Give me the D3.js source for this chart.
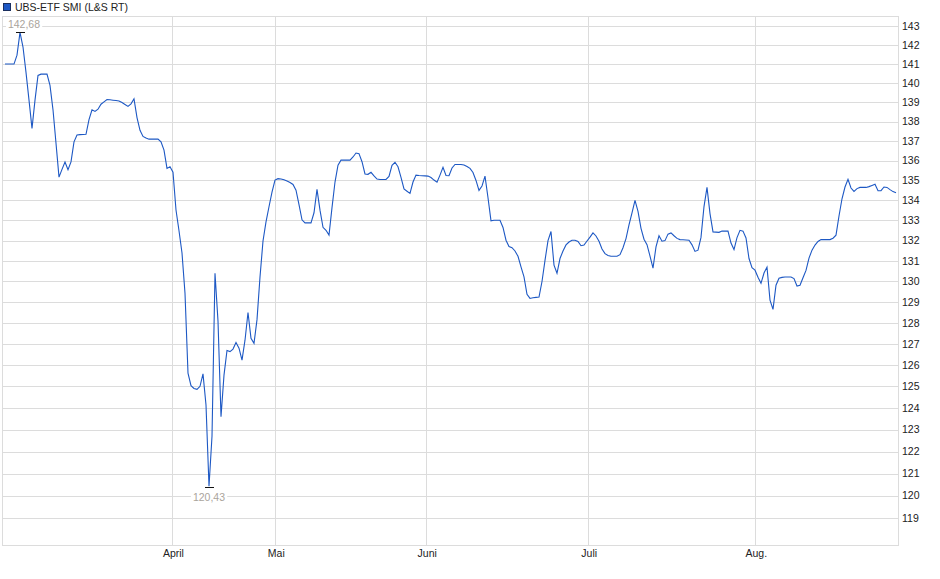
<!DOCTYPE html>
<html>
<head>
<meta charset="utf-8">
<script src="https://cdn.jsdelivr.net/npm/d3@7"></script>
<style>
  body { margin: 0; background: #fff; }
  text { font-family: "Liberation Sans", Arial, sans-serif; }
</style>
</head>
<body>
<svg id="chart" width="940" height="579"></svg>
<script>
// series name shown in the legend
const seriesName = "UBS-ETF SMI (L&S RT)";

// price samples, left to right
const prices = [
  141.0, 141.0, 141.0, 141.0, 141.47, 142.68, 141.9, 140.56, 139.11, 137.65,
  139.11, 140.40, 140.47, 140.47, 140.47, 139.88, 138.61, 136.89, 135.17, 135.56,
  135.93, 135.54, 135.94, 136.96, 137.31, 137.33, 137.34, 137.35, 138.10, 138.61,
  138.53, 138.64, 138.90, 139.02, 139.14, 139.13, 139.11, 139.09, 139.07, 138.99,
  138.89, 138.79, 138.92, 139.18, 138.21, 137.55, 137.24, 137.16, 137.10, 137.10,
  137.10, 137.10, 136.96, 136.54, 135.61, 135.69, 135.42, 133.52, 132.49, 131.39,
  129.43, 125.62, 125.04, 124.91, 124.87, 125.01, 125.59, 124.14, 120.43, 122.7,
  130.4, 128.09, 123.6, 125.53, 126.69, 126.64, 126.76, 127.07, 126.80, 126.24,
  127.18, 128.5, 127.27, 127.03, 128.16, 130.22, 131.98, 132.93, 133.68, 134.41,
  135.02, 135.09, 135.07, 135.04, 134.97, 134.90, 134.80, 134.51, 133.79, 133.03,
  132.88, 132.88, 132.88, 133.38, 134.55, 133.51, 132.66, 132.51, 132.27, 133.64,
  134.92, 135.77, 136.03, 136.03, 136.03, 136.03, 136.19, 136.39, 136.36, 135.95,
  135.33, 135.31, 135.41, 135.23, 135.07, 135.05, 135.05, 135.05, 135.20, 135.77,
  135.92, 135.69, 135.16, 134.57, 134.46, 134.35, 134.92, 135.27, 135.25, 135.24,
  135.23, 135.22, 135.15, 135.02, 134.91, 135.27, 135.66, 135.25, 135.24, 135.63,
  135.81, 135.81, 135.81, 135.78, 135.71, 135.61, 135.40, 135.00, 134.50, 134.72,
  135.22, 134.13, 132.98, 133.01, 133.01, 133.01, 132.65, 132.02, 131.71, 131.65,
  131.49, 131.23, 130.71, 130.22, 129.38, 129.18, 129.21, 129.23, 129.25, 130.00,
  131.03, 132.00, 132.45, 130.8, 130.4, 131.12, 131.49, 131.79, 131.93, 132.02,
  132.02, 131.96, 131.75, 131.78, 131.98, 132.17, 132.38, 132.23, 131.97, 131.59,
  131.36, 131.27, 131.23, 131.23, 131.23, 131.31, 131.65, 132.10, 132.78, 133.37,
  134.0, 133.45, 132.61, 132.07, 131.80, 131.24, 130.65, 131.69, 132.24, 131.97,
  132.0, 132.32, 132.38, 132.24, 132.11, 132.05, 132.04, 132.03, 132.02, 131.79,
  131.47, 131.53, 132.16, 133.69, 134.65, 133.34, 132.43, 132.42, 132.41, 132.47,
  132.47, 132.47, 131.88, 131.56, 132.15, 132.51, 132.47, 132.13, 131.12, 130.67,
  130.55, 130.21, 129.91, 130.41, 130.7, 129.1, 128.65, 129.82, 130.16, 130.2,
  130.22, 130.22, 130.22, 130.14, 129.78, 129.82, 130.18, 130.54, 131.14, 131.53,
  131.78, 131.96, 132.05, 132.05, 132.05, 132.05, 132.12, 132.27, 133.22, 134.08,
  134.67, 135.06, 134.62, 134.45, 134.59, 134.65, 134.65, 134.65, 134.69, 134.75,
  134.81, 134.48, 134.49, 134.67, 134.65, 134.54, 134.44, 134.38
];

// month starts, as position in the sample sequence
const monthLabels = ["April", "Mai", "Juni", "Juli", "Aug."];
const monthPos = [55.8, 90.1, 140.4, 194.4, 250.1];

// right axis ticks
const yTicks = [119, 120, 121, 122, 123, 124, 125, 126, 127, 128, 129, 130, 131,
  132, 133, 134, 135, 136, 137, 138, 139, 140, 141, 142, 143];
const yDomain = [117.8, 143.57];

const plot = { left: 2, right: 898, top: 15.7, bottom: 545.3 };
const lineColor = "#1d58c4";
const gridColor = "#dcdcdc";

const svg = d3.select("#chart");

const x = d3.scaleLinear()
  .domain([0, prices.length - 1])
  .range([5, 896]);

const y = d3.scaleLog()
  .domain(yDomain)
  .range([plot.bottom, plot.top]);

const fmt = v => d3.format(".2f")(v).replace(".", ",");

// gridlines
const grid = svg.append("g").attr("shape-rendering", "crispEdges");

grid.selectAll(".hgrid")
  .data(yTicks)
  .enter().append("line")
  .attr("x1", plot.left).attr("x2", plot.right)
  .attr("y1", d => Math.round(y(d)) + 0.5)
  .attr("y2", d => Math.round(y(d)) + 0.5)
  .attr("stroke", gridColor);

grid.selectAll(".vgrid")
  .data(monthPos)
  .enter().append("line")
  .attr("y1", plot.top).attr("y2", plot.bottom)
  .attr("x1", d => Math.round(x(d)) + 0.5)
  .attr("x2", d => Math.round(x(d)) + 0.5)
  .attr("stroke", gridColor);

grid.append("rect")
  .attr("x", plot.left + 0.5).attr("y", Math.round(plot.top) + 0.5)
  .attr("width", plot.right - plot.left)
  .attr("height", Math.round(plot.bottom) - Math.round(plot.top))
  .attr("fill", "none")
  .attr("stroke", gridColor);

// right axis labels
svg.append("g")
  .selectAll("text")
  .data(yTicks)
  .enter().append("text")
  .attr("x", plot.right + 4)
  .attr("y", d => y(d))
  .attr("dy", "0.35em")
  .attr("font-size", "10.5px")
  .attr("fill", "#222")
  .text(d => d);

// month labels
svg.append("g")
  .selectAll("text")
  .data(monthPos)
  .enter().append("text")
  .attr("x", d => x(d) + 1)
  .attr("y", plot.bottom + 12)
  .attr("text-anchor", "middle")
  .attr("font-size", "10.5px")
  .attr("fill", "#222")
  .text((d, i) => monthLabels[i]);

// price line
const line = d3.line()
  .x((d, i) => x(i))
  .y(d => y(d));

svg.append("path")
  .datum(prices)
  .attr("d", line)
  .attr("fill", "none")
  .attr("stroke", lineColor)
  .attr("stroke-width", 1.1)
  .attr("stroke-linejoin", "miter");

// high / low markers
const iMax = d3.maxIndex(prices);
const iMin = d3.minIndex(prices);

const drawMarker = (i, above) => {
  const px = x(i);
  const py = y(prices[i]) + (above ? -0.5 : 1);
  const g = svg.append("g");

  g.append("line")
    .attr("x1", px - 4.5).attr("x2", px + 4.5)
    .attr("y1", Math.round(py) + 0.5).attr("y2", Math.round(py) + 0.5)
    .attr("stroke", "#111")
    .attr("shape-rendering", "crispEdges");

  const label = g.append("text")
    .attr("x", Math.max(px, plot.left + 22))
    .attr("y", above ? py - 8 : py + 10)
    .attr("dy", "0.35em")
    .attr("text-anchor", "middle")
    .attr("font-size", "10.5px")
    .attr("fill", "#aaa49c")
    .text(fmt(prices[i]));

  const bb = label.node().getBBox();
  g.insert("rect", "text")
    .attr("x", bb.x - 2).attr("y", bb.y)
    .attr("width", bb.width + 4).attr("height", bb.height)
    .attr("fill", "#fff");
};

drawMarker(iMax, true);
drawMarker(iMin, false);

// legend
svg.append("rect")
  .attr("x", 3.5).attr("y", 3.5)
  .attr("width", 7).attr("height", 7)
  .attr("fill", "#1d58c4")
  .attr("stroke", "#1a2f5e");

svg.append("text")
  .attr("x", 15)
  .attr("y", 7)
  .attr("dy", "0.35em")
  .attr("font-size", "10.5px")
  .attr("fill", "#222")
  .text(seriesName);
</script>
</body>
</html>
